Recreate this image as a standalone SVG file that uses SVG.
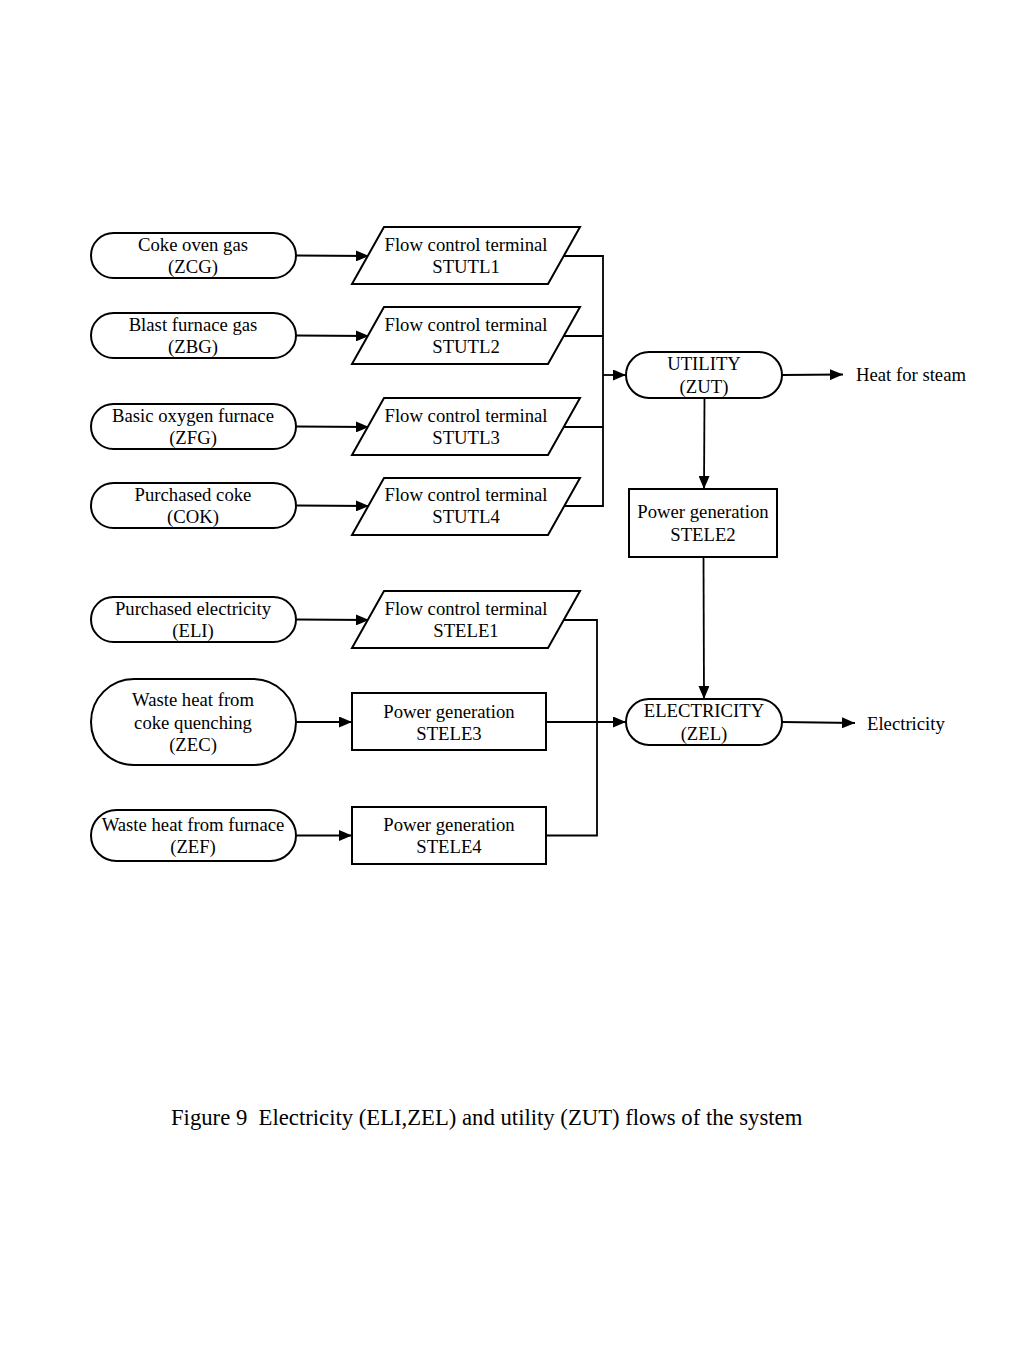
<svg xmlns="http://www.w3.org/2000/svg" width="1024" height="1365" viewBox="0 0 1024 1365">
<defs>
<marker id="ah" markerWidth="13" markerHeight="11" refX="13" refY="5.5" orient="auto" markerUnits="userSpaceOnUse">
<path d="M0,0 L13,5.5 L0,11 Z" fill="#000"/>
</marker>
<style>
.s{fill:#fff;stroke:#000;stroke-width:2}
.t{font-family:"Liberation Serif","Times New Roman",serif;font-size:18.7px;text-anchor:middle;fill:#000}
.l{font-family:"Liberation Serif","Times New Roman",serif;font-size:18.7px;fill:#000}
.c{fill:none;stroke:#000;stroke-width:1.8}
.a{fill:none;stroke:#000;stroke-width:1.8;marker-end:url(#ah)}
</style>
</defs>
<rect width="1024" height="1365" fill="#fff"/>
<g id="connectors">
<line class="a" x1="296" y1="255.5" x2="369" y2="256"/>
<line class="a" x1="296" y1="335.5" x2="369" y2="336"/>
<line class="a" x1="296" y1="426.5" x2="369" y2="427"/>
<line class="a" x1="296" y1="505.5" x2="369" y2="506"/>
<line class="a" x1="296" y1="619.5" x2="369" y2="620"/>
<line class="a" x1="296" y1="722" x2="352" y2="722"/>
<line class="a" x1="296" y1="835.5" x2="352" y2="835.5"/>
<polyline class="c" points="564,256 603,256 603,506 548,506"/>
<line class="c" x1="564" y1="336" x2="603" y2="336"/>
<line class="c" x1="564" y1="427" x2="603" y2="427"/>
<line class="a" x1="603" y1="375" x2="626" y2="375"/>
<polyline class="c" points="564,620 597,620 597,835.5 546,835.5"/>
<line class="a" x1="546" y1="722" x2="626" y2="722"/>
<line class="a" x1="782" y1="375" x2="843" y2="374.5"/>
<line class="a" x1="704.5" y1="398" x2="704" y2="489"/>
<line class="a" x1="703.5" y1="557" x2="704" y2="699"/>
<line class="a" x1="782" y1="722" x2="855" y2="723"/>
</g>
<g id="zcg"><rect class="s" x="91" y="233" width="205" height="45" rx="22.5"/><text class="t" x="193" y="251">Coke oven gas</text><text class="t" x="193" y="273">(ZCG)</text></g>
<g id="zbg"><rect class="s" x="91" y="313" width="205" height="45" rx="22.5"/><text class="t" x="193" y="331">Blast furnace gas</text><text class="t" x="193" y="353">(ZBG)</text></g>
<g id="zfg"><rect class="s" x="91" y="404" width="205" height="45" rx="22.5"/><text class="t" x="193" y="422">Basic oxygen furnace</text><text class="t" x="193" y="444">(ZFG)</text></g>
<g id="cok"><rect class="s" x="91" y="483" width="205" height="45" rx="22.5"/><text class="t" x="193" y="501">Purchased coke</text><text class="t" x="193" y="523">(COK)</text></g>
<g id="eli"><rect class="s" x="91" y="597" width="205" height="45" rx="22.5"/><text class="t" x="193" y="615">Purchased electricity</text><text class="t" x="193" y="637">(ELI)</text></g>
<g id="zec"><rect class="s" x="91" y="679" width="205" height="86" rx="43"/><text class="t" x="193" y="706">Waste heat from</text><text class="t" x="193" y="729">coke quenching</text><text class="t" x="193" y="751">(ZEC)</text></g>
<g id="zef"><rect class="s" x="91" y="810" width="205" height="51" rx="25.5"/><text class="t" x="193" y="831">Waste heat from furnace</text><text class="t" x="193" y="853">(ZEF)</text></g>
<g id="stutl1"><polygon class="s" points="384,227 580,227 548,284 352,284"/><text class="t" x="466" y="251">Flow control terminal</text><text class="t" x="466" y="273">STUTL1</text></g>
<g id="stutl2"><polygon class="s" points="384,307 580,307 548,364 352,364"/><text class="t" x="466" y="331">Flow control terminal</text><text class="t" x="466" y="353">STUTL2</text></g>
<g id="stutl3"><polygon class="s" points="384,398 580,398 548,455 352,455"/><text class="t" x="466" y="422">Flow control terminal</text><text class="t" x="466" y="444">STUTL3</text></g>
<g id="stutl4"><polygon class="s" points="384,478 580,478 548,535 352,535"/><text class="t" x="466" y="501">Flow control terminal</text><text class="t" x="466" y="523">STUTL4</text></g>
<g id="stele1"><polygon class="s" points="384,591 580,591 548,648 352,648"/><text class="t" x="466" y="615">Flow control terminal</text><text class="t" x="466" y="637">STELE1</text></g>
<g id="stele3"><rect class="s" x="352" y="693" width="194" height="57"/><text class="t" x="449" y="718">Power generation</text><text class="t" x="449" y="740">STELE3</text></g>
<g id="stele4"><rect class="s" x="352" y="807" width="194" height="57"/><text class="t" x="449" y="831">Power generation</text><text class="t" x="449" y="853">STELE4</text></g>
<g id="zut"><rect class="s" x="626" y="352" width="156" height="46" rx="23"/><text class="t" x="704" y="370">UTILITY</text><text class="t" x="704" y="393">(ZUT)</text></g>
<g id="stele2"><rect class="s" x="629" y="489" width="148" height="68"/><text class="t" x="703" y="518">Power generation</text><text class="t" x="703" y="541">STELE2</text></g>
<g id="zel"><rect class="s" x="626" y="699" width="156" height="46" rx="23"/><text class="t" x="704" y="717">ELECTRICITY</text><text class="t" x="704" y="740">(ZEL)</text></g>
<g id="heat"><text class="l" x="856" y="381">Heat for steam</text></g>
<g id="elec"><text class="l" x="867" y="730">Electricity</text></g>
<text x="171" y="1125" style="font-family:'Liberation Serif','Times New Roman',serif;font-size:22.7px;white-space:pre" xml:space="preserve">Figure 9  Electricity (ELI,ZEL) and utility (ZUT) flows of the system</text>
</svg>
